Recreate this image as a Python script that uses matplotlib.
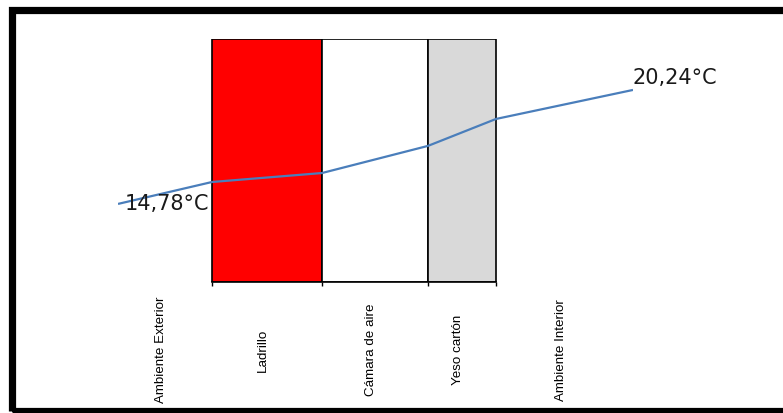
import matplotlib
matplotlib.use("Agg")
import matplotlib.pyplot as plt
from matplotlib.patches import Rectangle
from matplotlib.transforms import blended_transform_factory, offset_copy
import numpy as np

# ---- data ----
layers = ["Ambiente Exterior", "Ladrillo", "Cámara de aire", "Yeso cartón", "Ambiente Interior"]
layer_widths = [9.4, 11.0, 10.6, 6.8, 13.7]          # relative widths
layer_colors = [None, "#ff0000", "#ffffff", "#d9d9d9", None]
temperatures = [14.78, 15.83, 16.26, 17.56, 18.85, 20.24]  # at each boundary
label_first = "14,78°C"
label_last = "20,24°C"
y_min, y_max = 11.04, 22.68

W, H = 783, 414
fig = plt.figure(figsize=(W / 100, H / 100), dpi=100)
fig.patch.set_facecolor("white")

ax = fig.add_axes([118 / W, (H - 283) / H, 515 / W, 243 / H])
ax.set_facecolor("none")

edges = np.concatenate([[0], np.cumsum(layer_widths)])
ax.set_xlim(edges[0], edges[-1])
ax.set_ylim(y_min, y_max)

# wall layers as bars
for i, c in enumerate(layer_colors):
    if c is None:
        continue
    ax.bar(edges[i], y_max - y_min, width=layer_widths[i], bottom=y_min,
           align="edge", color=c, edgecolor="black", linewidth=1.2, zorder=1)

# temperature profile
ax.plot(edges, temperatures, color="#4a7ebb", linewidth=1.6, zorder=3,
        solid_capstyle="butt")

ax.annotate(label_first, (edges[0], temperatures[0]), xytext=(5, 1),
            textcoords="offset points", ha="left", va="center",
            fontsize=15, family=["DejaVu Sans"], color="#1a1a1a", zorder=4)
ax.annotate(label_last, (edges[-1], temperatures[-1]), xytext=(0, 9.5),
            textcoords="offset points", ha="left", va="center",
            fontsize=15, family=["DejaVu Sans"], color="#1a1a1a", zorder=4)

# axes styling
for s in ["left", "right", "top"]:
    ax.spines[s].set_visible(False)
ax.spines["bottom"].set_bounds(edges[1], edges[4])
ax.spines["bottom"].set_linewidth(1.2)
ax.set_yticks([])
ax.set_xticks(edges[1:5])
ax.set_xticklabels([])
ax.tick_params(axis="x", direction="out", length=3, width=1, color="black")

# category labels
trans = blended_transform_factory(ax.transData, ax.transAxes)
trans = offset_copy(trans, fig=fig, x=-4, y=0, units="dots")
centers = (edges[:-1] + edges[1:]) / 2
for xc, name in zip(centers, layers):
    ax.text(xc, -0.276, name, transform=trans, rotation=90, ha="center",
            va="center", fontsize=9.6, family=["Liberation Sans", "DejaVu Sans"],
            color="black", clip_on=False)

# outer frame
fig.patches.append(Rectangle((11.5 / W, 2 / H), 1.0, (412 - 11) / H,
                             transform=fig.transFigure, fill=False,
                             edgecolor="black", linewidth=5.2, clip_on=False))

fig.savefig("out.png", dpi=100)
